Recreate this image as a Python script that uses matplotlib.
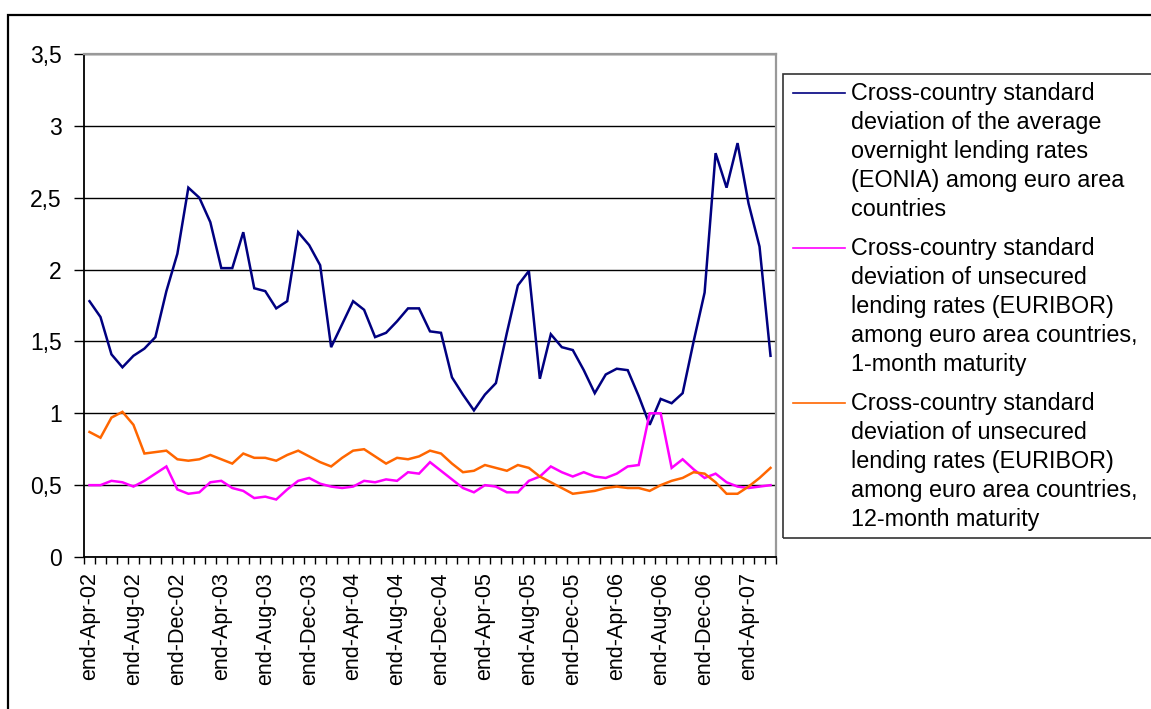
"""
Cross-country dispersion of euro area money market rates,
end-Apr-02 to end-Jun-07 (monthly).
"""
import numpy as np
import pandas as pd

import matplotlib
matplotlib.use('Agg')
import matplotlib.pyplot as plt
from matplotlib import ticker as mticker
from matplotlib.patches import Rectangle
from matplotlib.lines import Line2D

plt.rcParams['font.family'] = ['Liberation Sans', 'DejaVu Sans']


########  data  #########

months = pd.date_range('2002-04-30', periods=63, freq='ME')
month_labels = [ 'end-' + d.strftime('%b-%y') for d in months ]

eonia = [1.78, 1.67, 1.41, 1.32, 1.40, 1.45, 1.53, 1.85, 2.11, 2.57,
         2.50, 2.33, 2.01, 2.01, 2.26, 1.87, 1.85, 1.73, 1.78, 2.26,
         2.17, 2.03, 1.46, 1.62, 1.78, 1.72, 1.53, 1.56, 1.64, 1.73,
         1.73, 1.57, 1.56, 1.25, 1.13, 1.02, 1.13, 1.21, 1.56, 1.89,
         1.99, 1.24, 1.55, 1.46, 1.44, 1.30, 1.14, 1.27, 1.31, 1.30,
         1.12, 0.92, 1.10, 1.07, 1.14, 1.50, 1.84, 2.81, 2.57, 2.88,
         2.46, 2.16, 1.40]

euribor_1m = [0.50, 0.50, 0.53, 0.52, 0.49, 0.53, 0.58, 0.63, 0.47, 0.44,
              0.45, 0.52, 0.53, 0.48, 0.46, 0.41, 0.42, 0.40, 0.47, 0.53,
              0.55, 0.51, 0.49, 0.48, 0.49, 0.53, 0.52, 0.54, 0.53, 0.59,
              0.58, 0.66, 0.60, 0.54, 0.48, 0.45, 0.50, 0.49, 0.45, 0.45,
              0.53, 0.56, 0.63, 0.59, 0.56, 0.59, 0.56, 0.55, 0.58, 0.63,
              0.64, 1.00, 1.00, 0.62, 0.68, 0.61, 0.55, 0.58, 0.52, 0.49,
              0.48, 0.49, 0.50]

euribor_12m = [0.87, 0.83, 0.97, 1.01, 0.92, 0.72, 0.73, 0.74, 0.68, 0.67,
               0.68, 0.71, 0.68, 0.65, 0.72, 0.69, 0.69, 0.67, 0.71, 0.74,
               0.70, 0.66, 0.63, 0.69, 0.74, 0.75, 0.70, 0.65, 0.69, 0.68,
               0.70, 0.74, 0.72, 0.65, 0.59, 0.60, 0.64, 0.62, 0.60, 0.64,
               0.62, 0.56, 0.52, 0.48, 0.44, 0.45, 0.46, 0.48, 0.49, 0.48,
               0.48, 0.46, 0.50, 0.53, 0.55, 0.59, 0.58, 0.52, 0.44, 0.44,
               0.49, 0.55, 0.62]

series_labels = [
    ['Cross-country standard', 'deviation of the average',
     'overnight lending rates', '(EONIA) among euro area', 'countries'],
    ['Cross-country standard', 'deviation of unsecured',
     'lending rates (EURIBOR)', 'among euro area countries,', '1-month maturity'],
    ['Cross-country standard', 'deviation of unsecured',
     'lending rates (EURIBOR)', 'among euro area countries,', '12-month maturity'],
]
series_colors = ['#000080', '#FF00FF', '#FF6600']

y_ticks = np.arange(0, 3.51, 0.5)

####################################


#########  draw plot  #########

W, H = 1151, 709
def fx(px): return px / W
def fy(py): return 1 - py / H

fig = plt.figure(figsize=(W/100, H/100), dpi=100)
ax = fig.add_axes([fx(84), fy(557), fx(776) - fx(84), fy(54) - fy(557)])

xpos = np.arange(len(months))
for vals, color in zip([eonia, euribor_1m, euribor_12m], series_colors):
    ax.plot(xpos, vals, color=color, linewidth=1.8, zorder=3,
            solid_joinstyle='miter')

# x axis: category ticks between months, labels every 4 months
ax.set_xlim(-0.5, len(months) - 0.5)
ax.set_xticks(xpos[::4])
ax.set_xticklabels(month_labels[::4], rotation=90, ha='center', va='top')
ax.set_xticks(np.arange(-0.5, len(months), 1), minor=True)
ax.tick_params(axis='x', which='major', length=0, pad=11, labelsize=15.5)
ax.tick_params(axis='x', which='minor', length=5, width=1, direction='out')

# y axis with comma decimals
ax.set_ylim(0, 3.5)
ax.set_yticks(y_ticks)
ax.yaxis.set_major_formatter(mticker.FuncFormatter(
    lambda v, _: f'{v:g}'.replace('.', ',')))
ax.tick_params(axis='y', length=7, width=1, pad=9, labelsize=16.5)

ax.yaxis.grid(True, color='black', linewidth=1)
ax.set_axisbelow(True)

for s in ['left', 'bottom']:
    ax.spines[s].set_color('black')
    ax.spines[s].set_linewidth(1.3)
for s in ['top', 'right']:
    ax.spines[s].set_color('#999999')
    ax.spines[s].set_linewidth(1.6)

# outer chart frame (runs off the right/bottom edge)
fig.add_artist(Rectangle((fx(8), -0.05), 1.0, fy(15) + 0.05,
               transform=fig.transFigure, fill=False,
               edgecolor='black', linewidth=1.6))

# legend box, handles aligned with the first line of each entry
fig.add_artist(Rectangle((fx(783), fy(538)), 1.0, fy(74) - fy(538),
               transform=fig.transFigure, fill=False,
               edgecolor='#333333', linewidth=1.2))

first_baselines = [100, 255, 410]
line_pitch = 29
for lines, color, base in zip(series_labels, series_colors, first_baselines):
    fig.add_artist(Line2D([fx(793), fx(845)], [fy(base - 7)] * 2,
                   transform=fig.transFigure, color=color, linewidth=1.2))
    for k, txt in enumerate(lines):
        fig.text(fx(851), fy(base + k * line_pitch), txt,
                 ha='left', va='baseline', fontsize=16.8)

fig.savefig('out.png', dpi=100)
plt.close(fig)

####################################
